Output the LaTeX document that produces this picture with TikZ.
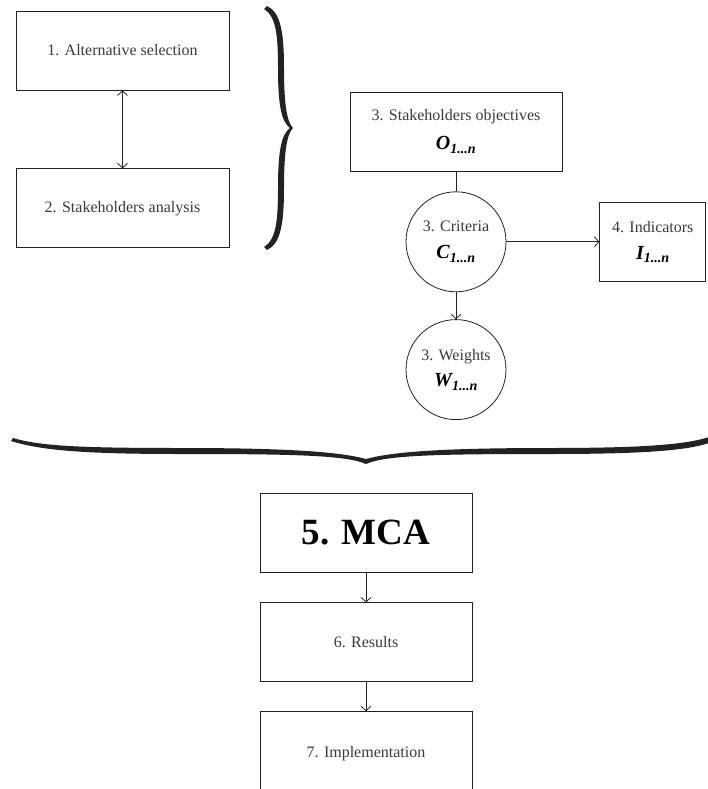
\documentclass[tikz,border=0pt]{standalone}
\usepackage{fontspec}
\setmainfont{Liberation Serif}
\usetikzlibrary{arrows.meta,positioning}
\definecolor{FlowInk}{HTML}{222222}
\definecolor{FlowText}{HTML}{3A3A3A}
\newcommand{\idx}[1]{{\fontsize{20}{22}\selectfont\bfseries\itshape\color{black}#1\textsubscript{1...n}}}

\begin{document}
\begin{tikzpicture}[x=1pt, y=-1pt, node distance=20pt and 93pt,
  flowbox/.style={draw=FlowInk, line width=0.8pt, minimum width=212pt, minimum height=79pt, inner sep=2pt,
    align=center, text=FlowText, font=\fontsize{16}{19}\selectfont},
  flowring/.style={draw=FlowInk, line width=0.8pt, circle, minimum size=100pt, inner sep=0pt,
    align=center, text=FlowText, font=\fontsize{16}{19}\selectfont},
  flowarrow/.style={draw=FlowInk, line width=0.8pt, -{Straight Barb[length=4.5pt,width=10pt]}}]
  \useasboundingbox (0,0) rectangle (707,789);

  \node[flowbox, minimum width=213pt] (alt) at (122.5,50.5) {1. Alternative selection};
  \node[flowbox, minimum width=213pt, below=78pt of alt] (stake) {2. Stakeholders analysis};
  \draw[flowarrow, {Straight Barb[length=4.5pt,width=10pt]}-{Straight Barb[length=4.5pt,width=10pt]}] (alt) -- (stake);

  \node[flowbox] (obj) at (456,131.5) {3. Stakeholders objectives\\[10pt]\idx{O}};
  \node[flowring, below=of obj] (crit) {3. Criteria\\[8pt]\idx{C}};
  \node[flowring, below=27pt of crit] (wgt) {3. Weights\\[8pt]\idx{W}};
  \node[flowbox, minimum width=106pt, right=of crit] (ind) {4. Indicators\\[8pt]\idx{I}};
  \draw[FlowInk, line width=0.8pt] (obj) -- (crit);
  \draw[flowarrow] (crit) -- (ind);
  \draw[flowarrow] (crit) -- (wgt);

  \fill[FlowInk] (267,6) .. controls (280,12) and (284,30) .. (284,68)
    .. controls (284,105) and (287,122) .. (293,128)
    .. controls (287,134) and (284,151) .. (284,188)
    .. controls (284,226) and (280,244) .. (267,250) -- (264,247)
    .. controls (276,240) and (278,221) .. (278,188)
    .. controls (278,148) and (282,134) .. (290,128)
    .. controls (282,122) and (278,108) .. (278,68)
    .. controls (278,35) and (276,16) .. (264,9) -- cycle;
  \fill[FlowInk] (13,438) .. controls (40,446) and (80,448) .. (180,448)
    .. controls (290,448) and (340,452) .. (366,459)
    .. controls (392,452) and (440,448) .. (550,448)
    .. controls (650,448) and (690,444) .. (712,436) -- (712,442)
    .. controls (690,450) and (650,454) .. (550,454)
    .. controls (440,454) and (386,455) .. (366,464)
    .. controls (346,455) and (290,454) .. (180,454)
    .. controls (80,454) and (40,450) .. (11,441) -- cycle;

  \node[flowbox, text=black, font=\fontsize{37}{42}\selectfont\bfseries] (mca) at (366,532.5) {5. MCA};
  \node[flowbox, below=30pt of mca] (res) {6. Results};
  \node[flowbox, minimum height=84pt, below=29pt of res] (impl) {7. Implementation};
  \draw[flowarrow] (mca) -- (res);
  \draw[flowarrow] (res) -- (impl);
\end{tikzpicture}
\end{document}
